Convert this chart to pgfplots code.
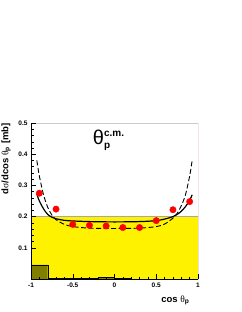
\documentclass[border=0pt]{standalone}
\usepackage{fontspec}
\setmainfont{Liberation Sans}
\newfontfamily\symf{Liberation Serif}
\usepackage{pgfplots}
\pgfplotsset{compat=1.18}
\definecolor{olivebar}{RGB}{128,128,0}
\definecolor{framered}{RGB}{170,60,60}
\begin{document}
\begin{tikzpicture}
\useasboundingbox (-31pt,-33pt) rectangle (210pt,279pt);
\begin{axis}[
  scale only axis, width=167pt, height=156pt,
  xmin=-1, xmax=1, ymin=0, ymax=0.5,
  axis x line*=bottom, axis y line*=left,
  axis line style={black, line width=0.5pt},
  tick align=inside, xtick pos=left, ytick pos=left,
  xtick={-1,-0.5,0,0.5,1}, ytick={0.1,0.2,0.3,0.4,0.5},
  minor x tick num=4, minor y tick num=4,
  major tick length=5pt, minor tick length=2.5pt,
  tick style={black, line width=0.4pt},
  /pgf/number format/assume math mode=true,
  ticklabel style={font=\fontsize{6.5}{7}\selectfont\bfseries},
  xticklabels={-1,-0.5,0,0.5,1},
  yticklabels={0.1,0.2,0.3,0.4,0.5},
  xlabel={cos {\symf\mdseries θ}\textsubscript{p}},
  ylabel={d{\symf\mdseries σ}/dcos {\symf\mdseries θ}\textsubscript{p} [mb]},
  label style={font=\fontsize{9.5}{10}\selectfont\bfseries},
  xlabel style={at={(rel axis cs:0.97,-0.085)}, anchor=north east},
  ylabel style={at={(rel axis cs:-0.1,1.02)}, anchor=south east},
  axis on top,
]
\addplot[fill=yellow, draw=gray!70, line width=0.4pt] coordinates {(-1,0.2) (1,0.2)} \closedcycle;
\addplot[const plot, fill=olivebar, draw=black, line width=0.4pt] coordinates {
 (-1,0.045) (-0.8,0.0015) (-0.6,0.001) (-0.4,0.001) (-0.2,0.006) (0,0.002) (0.2,0.0) (0.4,0) (0.6,0) (0.8,0) (1,0)} \closedcycle;
\addplot[black, line width=1.2pt, smooth] coordinates {
 (-0.93,0.272) (-0.9,0.25) (-0.85,0.225) (-0.8,0.207) (-0.75,0.198) (-0.7,0.193) (-0.6,0.188) (-0.5,0.186) (-0.3,0.184) (0,0.183) (0.3,0.184) (0.5,0.187) (0.6,0.192) (0.7,0.2) (0.75,0.207) (0.8,0.217) (0.85,0.232) (0.9,0.252) (0.93,0.27)};
\addplot[black, line width=0.9pt, dashed, dash pattern=on 5pt off 2.5pt, smooth] coordinates {
 (-0.93,0.38) (-0.9,0.33) (-0.85,0.27) (-0.8,0.23) (-0.75,0.205) (-0.7,0.19) (-0.6,0.175) (-0.5,0.168) (-0.3,0.163) (0,0.162) (0.3,0.163) (0.5,0.168) (0.6,0.176) (0.7,0.195) (0.75,0.21) (0.8,0.235) (0.85,0.27) (0.9,0.33) (0.93,0.38)};
\addplot[only marks, mark=*, mark size=3.2pt, red, mark options={draw=red, fill=red}] coordinates {
 (-0.9,0.275) (-0.7,0.224) (-0.5,0.175) (-0.3,0.172) (-0.1,0.170) (0.1,0.165) (0.3,0.165) (0.5,0.187) (0.7,0.222) (0.9,0.248)};
\draw[gray!40, line width=0.4pt] (rel axis cs:0,1) -- (rel axis cs:1,1);
\draw[framered, line width=0.6pt] (rel axis cs:1,1) -- (rel axis cs:1,0);
\node[anchor=north west, inner sep=0pt] at (axis cs:-0.26,0.478) {{\fontsize{20}{20}\selectfont θ}\raisebox{-4pt}{\parbox[b]{40pt}{\fontsize{10}{10}\selectfont\bfseries c.m.\\[2.5pt] p}}};
\end{axis}
\end{tikzpicture}
\end{document}
